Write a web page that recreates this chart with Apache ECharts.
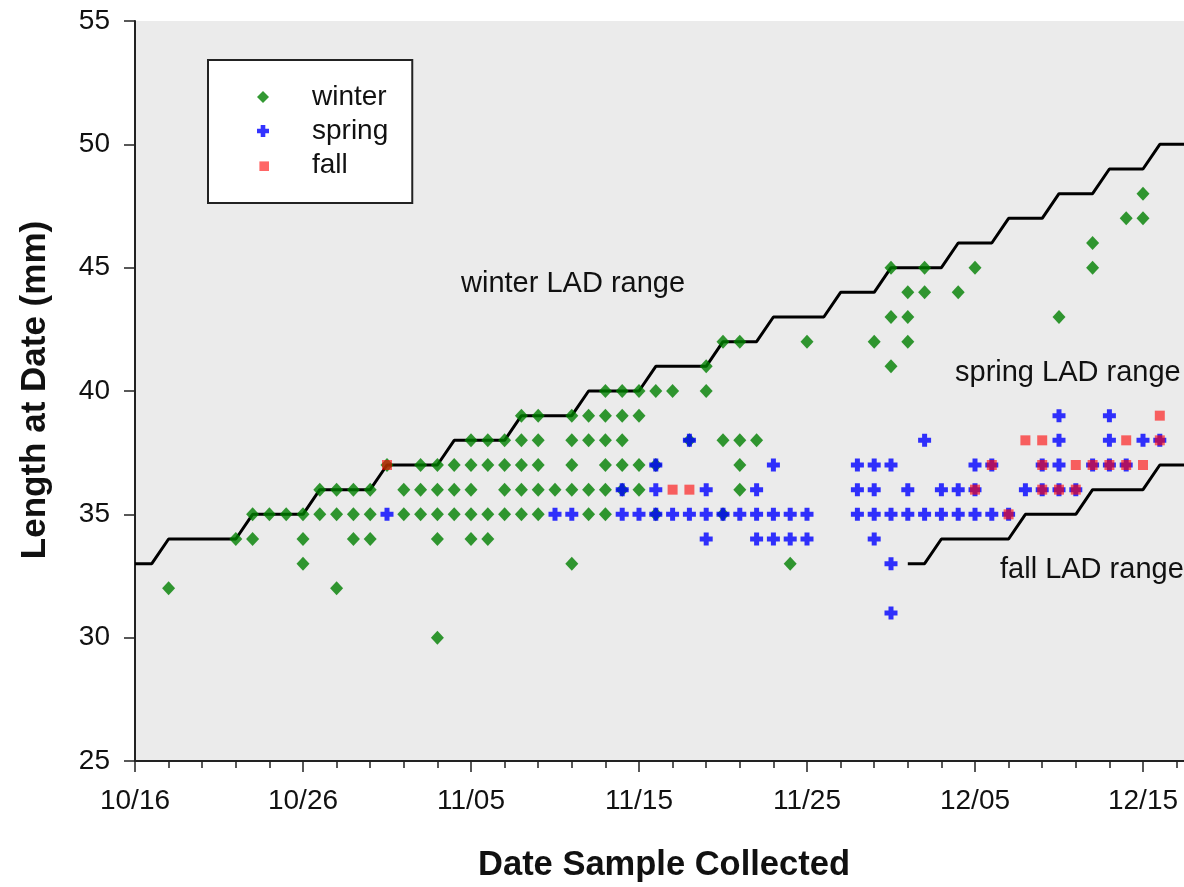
<!DOCTYPE html>
<html>
<head>
<meta charset="utf-8">
<title>Length at Date</title>
<script src="https://cdn.jsdelivr.net/npm/echarts@6/dist/echarts.min.js"></script>
<style>
  html, body { margin: 0; padding: 0; background: #ffffff; }
  #chart { width: 1184px; height: 887px; }
</style>
</head>
<body>
<div id="chart"></div>
<script>
// Samples per collection date: [date, lengths in mm]
const winterSamples = [
  ['10/18', [32]], ['10/22', [34]], ['10/23', [34, 35]], ['10/24', [35]], ['10/25', [35]],
  ['10/26', [33, 34, 35]], ['10/27', [35, 36]], ['10/28', [32, 35, 36]], ['10/29', [34, 35, 36]],
  ['10/30', [34, 35, 36]], ['10/31', [37]], ['11/01', [35, 36]], ['11/02', [35, 36, 37]],
  ['11/03', [30, 34, 35, 36, 37]], ['11/04', [35, 36, 37]], ['11/05', [34, 35, 36, 37, 38]],
  ['11/06', [34, 35, 37, 38]], ['11/07', [35, 36, 37, 38]], ['11/08', [35, 36, 37, 38, 39]],
  ['11/09', [35, 36, 37, 38, 39]], ['11/10', [36]], ['11/11', [33, 36, 37, 38, 39]],
  ['11/12', [35, 36, 38, 39]], ['11/13', [35, 36, 37, 38, 39, 40]], ['11/14', [36, 37, 38, 39, 40]],
  ['11/15', [36, 37, 39, 40]], ['11/16', [35, 37, 40]], ['11/17', [40]], ['11/18', [38]],
  ['11/19', [40, 41]], ['11/20', [35, 38, 42]], ['11/21', [36, 37, 38, 42]], ['11/22', [38]],
  ['11/24', [33]], ['11/25', [42]], ['11/29', [42]], ['11/30', [41, 43, 45]],
  ['12/01', [42, 43, 44]], ['12/02', [44, 45]], ['12/04', [44]], ['12/05', [45]],
  ['12/10', [43]], ['12/12', [45, 46]], ['12/14', [47]], ['12/15', [47, 48]]
];

const springSamples = [
  ['10/31', [35]], ['11/10', [35]], ['11/11', [35]], ['11/14', [35, 36]], ['11/15', [35]],
  ['11/16', [35, 36, 37]], ['11/17', [35]], ['11/18', [35, 38]], ['11/19', [34, 35, 36]],
  ['11/20', [35]], ['11/21', [35]], ['11/22', [34, 35, 36]], ['11/23', [34, 35, 37]],
  ['11/24', [34, 35]], ['11/25', [34, 35]], ['11/28', [35, 36, 37]], ['11/29', [34, 35, 36, 37]],
  ['11/30', [31, 33, 35, 37]], ['12/01', [35, 36]], ['12/02', [35, 38]], ['12/03', [35, 36]],
  ['12/04', [35, 36]], ['12/05', [35, 36, 37]], ['12/06', [35, 37]], ['12/07', [35]],
  ['12/08', [36]], ['12/09', [36, 37]], ['12/10', [36, 37, 38, 39]], ['12/11', [36]],
  ['12/12', [37]], ['12/13', [37, 38, 39]], ['12/14', [37]], ['12/15', [38]], ['12/16', [38]]
];

const fallSamples = [
  ['10/31', [37]], ['11/17', [36]], ['11/18', [36]], ['12/05', [36]], ['12/06', [37]],
  ['12/07', [35]], ['12/08', [38]], ['12/09', [36, 37, 38]], ['12/10', [36]],
  ['12/11', [36, 37]], ['12/12', [37]], ['12/13', [37]], ['12/14', [37, 38]],
  ['12/15', [37]], ['12/16', [38, 39]]
];

// Daily LAD boundary lengths (mm), one value per day from the start date
const winterLadStart = '10/16';
const winterLad = [
  33, 33, 34, 34, 34, 34, 34, 35, 35, 35, 35, 36, 36, 36, 36, 37,
  37, 37, 37, 38, 38, 38, 38, 39, 39, 39, 39, 40, 40, 40, 40, 41,
  41, 41, 41, 42, 42, 42, 43, 43, 43, 43, 44, 44, 44, 45, 45, 45,
  45, 46, 46, 46, 47, 47, 47, 48, 48, 48, 49, 49, 49, 50, 50, 50
];
const fallLadStart = '12/01';
const fallLad = [33, 33, 34, 34, 34, 34, 34, 35, 35, 35, 35, 36, 36, 36, 36, 37, 37, 37];

// Axis settings
const axisStart = '10/16';
const axisDays = 70;
const yTicks = [25, 30, 35, 40, 45, 50, 55];

const FONT = '"Liberation Sans", Arial, Helvetica, sans-serif';
const YEAR = 2001;

function dayOf(md) {
  const [m, d] = md.split('/').map(Number);
  const [m0, d0] = axisStart.split('/').map(Number);
  return Math.round((Date.UTC(YEAR, m - 1, d) - Date.UTC(YEAR, m0 - 1, d0)) / 86400000);
}
function labelOf(day) {
  const [m0, d0] = axisStart.split('/').map(Number);
  const dt = new Date(Date.UTC(YEAR, m0 - 1, d0) + day * 86400000);
  const mm = String(dt.getUTCMonth() + 1).padStart(2, '0');
  const dd = String(dt.getUTCDate()).padStart(2, '0');
  return mm + '/' + dd;
}
function flatten(samples) {
  const out = [];
  samples.forEach(([md, vals]) => vals.forEach(v => out.push([dayOf(md), v])));
  return out;
}
function ladPoints(start, vals) {
  const s = dayOf(start);
  return vals.map((v, i) => [s + i, v]);
}

const plusPath = 'path://M4,0H9V4H13V9H9V13H4V9H0V4H4Z';
const diamondPath = 'path://M6,0L12,6L6,12L0,6Z';
const smallSquarePath = 'path://M-2,-2M0,0H8V8H0Z';

const chart = echarts.init(document.getElementById('chart'), null, { renderer: 'canvas' });

chart.setOption({
  animation: false,
  backgroundColor: '#ffffff',
  textStyle: { fontFamily: FONT },
  grid: {
    show: true,
    left: 135,
    top: 21,
    height: 740,
    width: axisDays * 16.8,
    outerBoundsMode: 'none',
    containLabel: false,
    backgroundColor: '#ebebeb',
    borderWidth: 0
  },
  legend: {
    orient: 'vertical',
    left: 208,
    top: 60,
    selectedMode: false,
    itemWidth: 88,
    itemHeight: 12,
    itemGap: 0,
    padding: [20, 24, 21, 49],
    backgroundColor: '#ffffff',
    borderColor: '#222222',
    borderWidth: 2,
    borderRadius: 0,
    textStyle: { fontSize: 28, lineHeight: 34, color: '#111111', fontFamily: FONT },
    data: [
      { name: 'winter', icon: diamondPath },
      { name: 'spring', icon: plusPath },
      { name: 'fall', icon: smallSquarePath }
    ]
  },
  xAxis: {
    type: 'value',
    min: 0,
    max: axisDays,
    interval: 10,
    axisLine: { show: true, onZero: false, lineStyle: { color: '#222222', width: 2 } },
    axisTick: { show: true, inside: false, length: 11, lineStyle: { color: '#222222', width: 1.5 } },
    minorTick: { show: true, splitNumber: 5, length: 7, lineStyle: { color: '#222222', width: 1.5 } },
    splitLine: { show: false },
    axisLabel: {
      margin: 26,
      fontSize: 28,
      color: '#111111',
      fontFamily: FONT,
      formatter: v => (v % 10 === 0 ? labelOf(v) : '')
    }
  },
  yAxis: {
    type: 'value',
    min: yTicks[0],
    max: yTicks[yTicks.length - 1],
    interval: 5,
    axisLine: { show: true, onZero: false, lineStyle: { color: '#222222', width: 2 } },
    axisTick: { show: true, inside: false, length: 11, lineStyle: { color: '#222222', width: 1.5 } },
    splitLine: { show: false },
    axisLabel: { margin: 25, fontSize: 28, color: '#111111', fontFamily: FONT }
  },
  graphic: [
    {
      type: 'text', x: 35, y: 390, rotation: Math.PI / 2, silent: true,
      style: { text: 'Length at Date (mm)', font: 'bold 35px ' + FONT, fill: '#111111', align: 'center', verticalAlign: 'middle' }
    },
    {
      type: 'text', x: 664, y: 865, silent: true,
      style: { text: 'Date Sample Collected', font: 'bold 34.5px ' + FONT, fill: '#111111', align: 'center', verticalAlign: 'middle' }
    },
    {
      type: 'text', x: 461, y: 284, silent: true,
      style: { text: 'winter LAD range', font: '29px ' + FONT, fill: '#111111', align: 'left', verticalAlign: 'middle' }
    },
    {
      type: 'text', x: 955, y: 373, silent: true,
      style: { text: 'spring LAD range', font: '29px ' + FONT, fill: '#111111', align: 'left', verticalAlign: 'middle' }
    },
    {
      type: 'text', x: 1000, y: 570, silent: true,
      style: { text: 'fall LAD range', font: '29px ' + FONT, fill: '#111111', align: 'left', verticalAlign: 'middle' }
    }
  ],
  series: [
    {
      name: 'winter LAD', type: 'line', silent: true, symbol: 'none', z: 1,
      lineStyle: { color: '#000000', width: 3 },
      data: ladPoints(winterLadStart, winterLad)
    },
    {
      name: 'fall LAD', type: 'line', silent: true, symbol: 'none', z: 1,
      lineStyle: { color: '#000000', width: 3 },
      data: ladPoints(fallLadStart, fallLad)
    },
    {
      name: 'winter', type: 'scatter', z: 2,
      symbol: 'diamond', symbolSize: [13, 14],
      itemStyle: { color: '#008000' },
      data: flatten(winterSamples)
    },
    {
      name: 'spring', type: 'scatter', z: 3,
      symbol: plusPath, symbolSize: 13,
      itemStyle: { color: '#0000ff' },
      data: flatten(springSamples)
    },
    {
      name: 'fall', type: 'scatter', z: 4,
      symbol: 'rect', symbolSize: 10,
      itemStyle: { color: 'rgba(255, 0, 0, 0.75)' },
      data: flatten(fallSamples)
    }
  ]
});
</script>
</body>
</html>
